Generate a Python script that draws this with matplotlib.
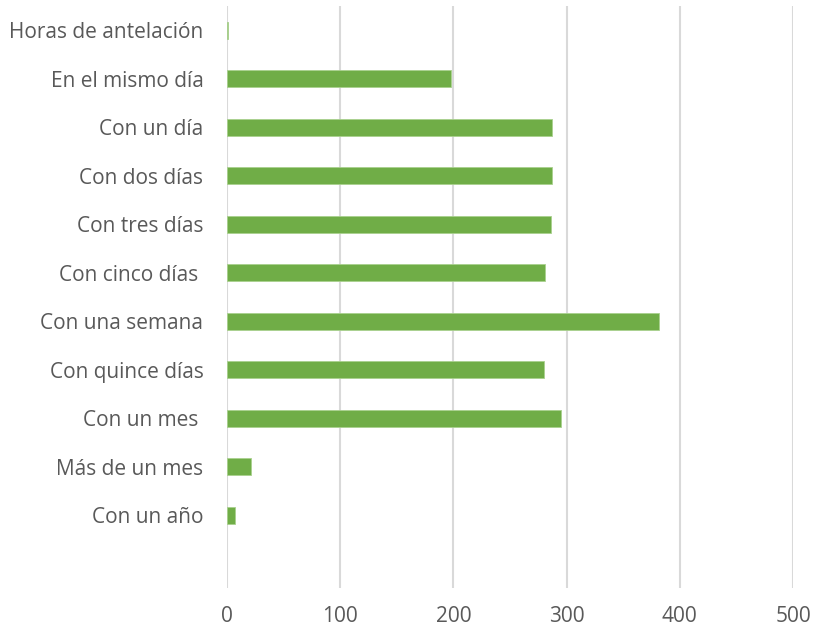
import numpy as np
import matplotlib.pyplot as plt

categories = ['Horas de antelación', 'En el mismo día', 'Con un día', 'Con dos días',
              'Con tres días', 'Con cinco días ', 'Con una semana', 'Con quince días',
              'Con un mes ', 'Más de un mes', 'Con un año', '']
values = [1, 198, 287, 287, 286, 281, 382, 280, 295, 21, 7]
xticks = [0, 100, 200, 300, 400, 500]

plt.rcParams['font.family'] = ['Open Sans', 'DejaVu Sans']

fig = plt.figure(figsize=(8.14, 6.29), dpi=100)
ax = fig.add_axes([227/814, 1 - 588/629, (793 - 227)/814, (588 - 6)/629])

y = np.arange(len(categories))
ax.barh(y[:len(values)], values, height=0.35, color='#70AD47', edgecolor='#A9D18E',
        linewidth=0.6, zorder=3)

ax.set_xlim(0, 500)
ax.set_ylim(len(categories) - 0.5, -0.5)
ax.set_yticks(y)
ax.set_yticklabels(categories)
ax.set_xticks(xticks)
ax.set_xticklabels([str(t) for t in xticks])

ax.grid(axis='x', color='#D9D9D9', linewidth=1.5, zorder=0)
for s in ax.spines.values():
    s.set_visible(False)
ax.tick_params(axis='both', length=0, labelsize=15, colors='#595959')
ax.tick_params(axis='y', pad=17)
ax.tick_params(axis='x', pad=13)

fig.savefig('out.png', dpi=100)
